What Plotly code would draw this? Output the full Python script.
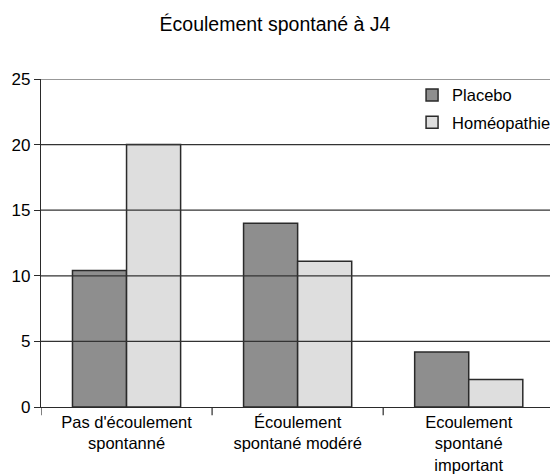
import plotly.graph_objects as go

# Données
categories = ["Pas d'écoulement<br>spontanné", "Écoulement<br>spontané modéré", "Ecoulement<br>spontané<br>important"]
placebo = [10.4, 14.0, 4.2]
homeopathie = [20.0, 11.1, 2.1]
series_names = ["Placebo", "Homéopathie"]
y_ticks = [0, 5, 10, 15, 20, 25]

FONT = "Liberation Sans, Arial, Helvetica, sans-serif"
LINE = "#2a2a2a"

fig = go.Figure()
fig.add_trace(go.Bar(
    x=list(range(len(categories))), y=placebo, name=series_names[0], legendgroup="a",
    marker=dict(color="#8e8e8e", line=dict(color=LINE, width=1.5)),
))
fig.add_trace(go.Bar(
    x=list(range(len(categories))), y=homeopathie, name=series_names[1], legendgroup="b",
    marker=dict(color="#dedede", line=dict(color=LINE, width=1.5)),
))

# horizontal grid drawn over the bars
for v in y_ticks[1:]:
    fig.add_shape(type="line", xref="paper", yref="y", x0=0, x1=1, y0=v, y1=v,
                  line=dict(color="#333333", width=1.2), layer="above")

fig.update_layout(
    width=550, height=475,
    margin=dict(l=41, r=0, t=79, b=68, autoexpand=False),
    paper_bgcolor="white", plot_bgcolor="white",
    font=dict(family=FONT, color="black", size=16.5),
    title=dict(text="Écoulement spontané à J4", x=0.5, xanchor="center",
               y=0.949, yanchor="middle", font=dict(family=FONT, size=19.5, color="black")),
    barmode="group", bargap=0.368, bargroupgap=0,
    showlegend=True,
    legend=dict(x=0.729, xanchor="left", y=1.004, yanchor="top",
                bgcolor="rgba(0,0,0,0)", font=dict(size=16.5), tracegroupgap=3,
                itemclick=False),
    xaxis=dict(
        tickmode="array", tickvals=list(range(len(categories))), ticktext=categories,
        range=[-0.5, 2.475], showgrid=False, showline=True, linecolor=LINE, linewidth=1.2,
        ticks="", tickfont=dict(size=16.5), zeroline=False,
    ),
    yaxis=dict(
        range=[0, 25], tickvals=y_ticks, showgrid=False, showline=True,
        linecolor=LINE, linewidth=1.2, ticks="outside", ticklen=6, tickcolor=LINE,
        tickwidth=1.2, tickfont=dict(size=17), zeroline=False,
    ),
)

# category boundary ticks below the x axis
for b in [-0.5, 0.5, 1.5]:
    fig.add_shape(type="line", xref="x", yref="paper", x0=b, x1=b, y0=0, y1=-0.025,
                  line=dict(color=LINE, width=1.2))

fig.write_html("out.html")
